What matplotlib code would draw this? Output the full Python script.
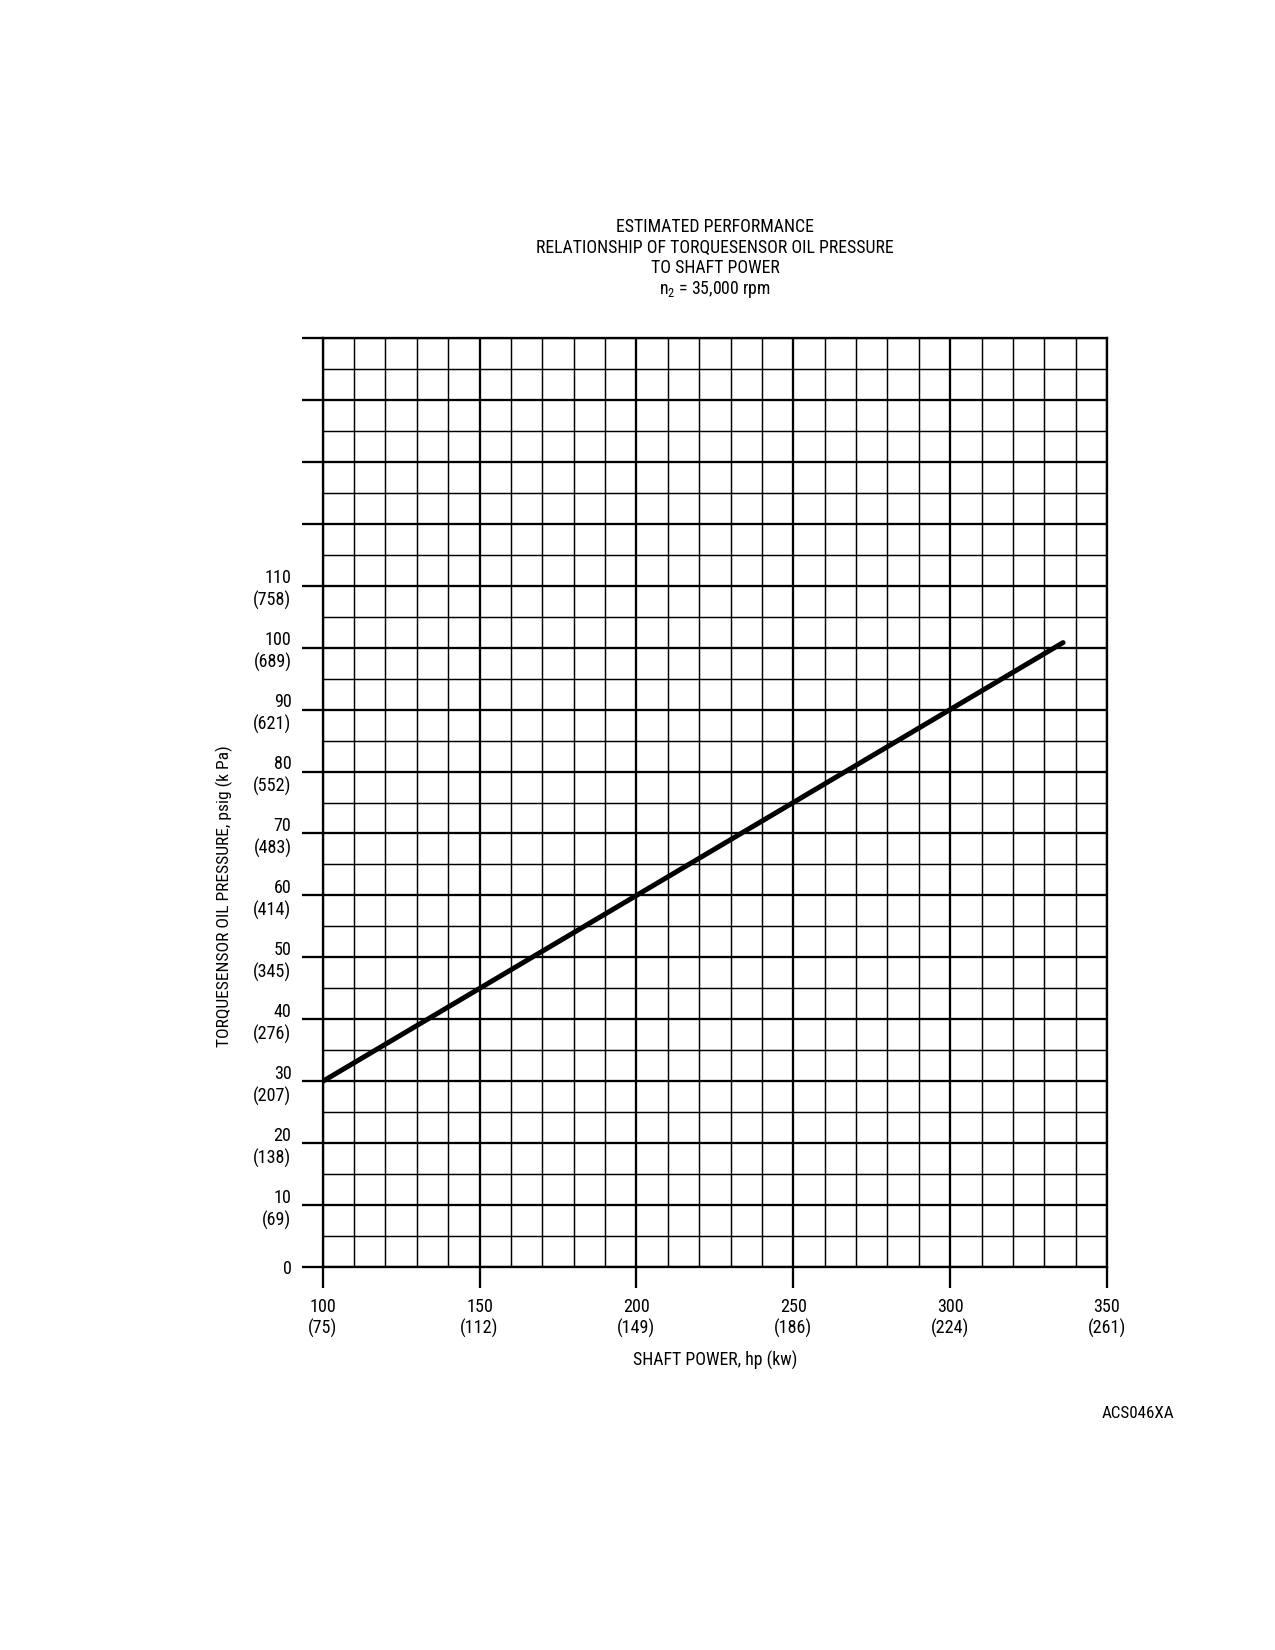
import matplotlib
matplotlib.use("Agg")
import matplotlib.pyplot as plt
from matplotlib.ticker import MultipleLocator, FixedLocator

FONT = ["Roboto Condensed", "Archivo Narrow", "PT Sans Narrow", "Liberation Sans", "DejaVu Sans"]
plt.rcParams["font.family"] = FONT
plt.rcParams["mathtext.fontset"] = "custom"
plt.rcParams["mathtext.rm"] = "Roboto Condensed"

# estimated line: shaft power (hp) vs torquesensor oil pressure (psig)
shaft_hp = [100, 336]
oil_psig = [30, 100.8]

# axis labels
x_ticks = [100, 150, 200, 250, 300, 350]
x_kw = ["75", "112", "149", "186", "224", "261"]
y_ticks = [0, 10, 20, 30, 40, 50, 60, 70, 80, 90, 100, 110, 120, 130, 140, 150]
y_kpa = ["", "69", "138", "207", "276", "345", "414", "483", "552", "621", "689", "758"]

W, H = 1275, 1650
fig = plt.figure(figsize=(8.5, 11), dpi=150)
ax = fig.add_axes([322.7 / W, 1 - 1267.3 / H, (1107 - 322.7) / W, (1267.3 - 337.7) / H])

ax.set_xlim(100, 350)
ax.set_ylim(0, 150)

major_lw = 1.1
minor_lw = 0.7

ax.xaxis.set_major_locator(FixedLocator(x_ticks))
ax.xaxis.set_minor_locator(MultipleLocator(10))
ax.yaxis.set_major_locator(FixedLocator(y_ticks))
ax.yaxis.set_minor_locator(MultipleLocator(5))

ax.set_xticklabels([f"{h}\n({k})" for h, k in zip(x_ticks, x_kw)])
ylabels = []
for i, v in enumerate(y_ticks):
    if i < len(y_kpa):
        ylabels.append(f"{v}\n({y_kpa[i]})" if y_kpa[i] else f"{v}")
    else:
        ylabels.append("")
ax.set_yticklabels(ylabels)

ax.tick_params(which="major", direction="out", length=10, width=major_lw,
               color="black", labelsize=8.7, pad=4.5)
ax.tick_params(which="minor", length=0)
ax.tick_params(axis="y", pad=5)
for lab in ax.get_xticklabels():
    lab.set_linespacing(1.25)
for lab in ax.get_yticklabels():
    lab.set_linespacing(1.25)

ax.grid(which="major", color="black", lw=major_lw)
ax.grid(which="minor", color="black", lw=minor_lw)
ax.set_axisbelow(True)
for sp in ax.spines.values():
    sp.set_linewidth(major_lw)

ax.plot(shaft_hp, oil_psig, color="black", lw=2.4, solid_capstyle="round", zorder=5)

# titles and labels
cx = 715 / W
title_lines = ["ESTIMATED PERFORMANCE",
               "RELATIONSHIP OF TORQUESENSOR OIL PRESSURE",
               "TO SHAFT POWER",
               r"n$_2$ = 35,000 rpm"]
title_y = [227, 248, 268, 289]
for t, yy in zip(title_lines, title_y):
    fig.text(cx, 1 - yy / H, t, ha="center", va="center", fontsize=8.5)

fig.text(cx, 1 - 1360 / H, "SHAFT POWER, hp (kw)", ha="center", va="center", fontsize=8.5)
fig.text(224 / W, 1 - 896 / H, "TORQUESENSOR OIL PRESSURE, psig (k Pa)",
         ha="center", va="center", rotation=90, fontsize=8.4)
fig.text(1174 / W, 1 - 1413 / H, "ACS046XA", ha="right", va="center", fontsize=8.2)

fig.savefig("out.png", dpi=150)
